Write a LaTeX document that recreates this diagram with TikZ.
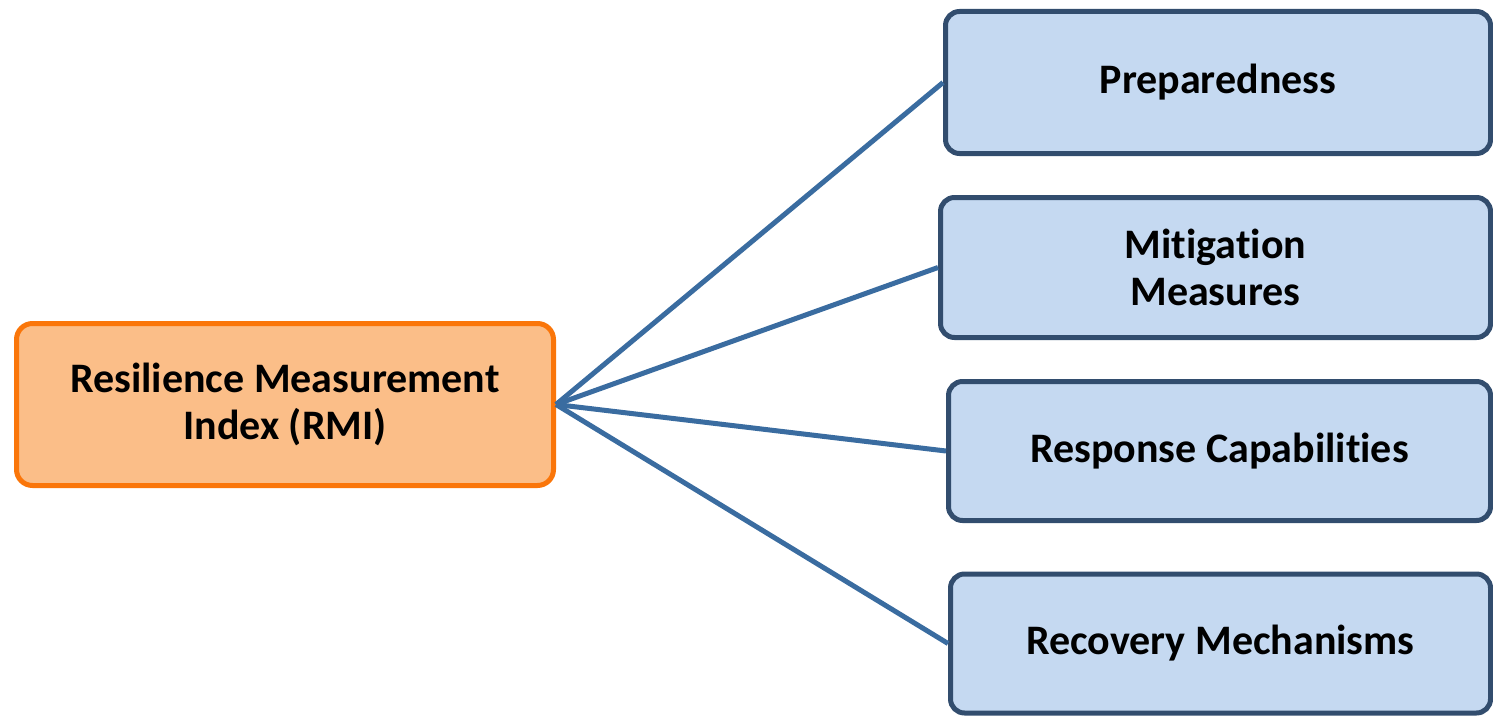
\documentclass[tikz,border=0pt]{standalone}
\usepackage{fontspec}
\setmainfont{Carlito}[Ligatures={NoCommon}]
\definecolor{linkblue}{RGB}{58,108,160}
\definecolor{boxedge}{RGB}{50,77,110}
\definecolor{boxfill}{RGB}{197,217,241}
\definecolor{rmifill}{RGB}{251,190,136}
\definecolor{rmiedge}{RGB}{250,118,10}
\begin{document}
\begin{tikzpicture}[x=1pt,y=-1pt,
  lbl/.style={font=\fontsize{42}{47}\selectfont\bfseries, align=center, text=black},
  catbox/.style={lbl, draw=boxedge, fill=boxfill, line width=5pt, rounded corners=14pt, inner sep=0pt},
  rmibox/.style={lbl, draw=rmiedge, fill=rmifill, line width=5pt, rounded corners=16pt, inner sep=0pt},
  link/.style={draw=linkblue, line width=5pt}]
\useasboundingbox (0,0) rectangle (1493,717);
\node[rmibox, minimum width=537pt, minimum height=162pt] (rmi) at (285,404.5) {Resilience Measurement\\Index (RMI)};
\node[catbox, minimum width=545pt, minimum height=142pt] (prep) at (1218,82.5) {Preparedness};
\node[catbox, minimum width=550pt, minimum height=140pt] (miti) at (1215.5,267.5) {Mitigation\\Measures};
\node[catbox, minimum width=542pt, minimum height=139pt] (resp) at (1219.5,451) {Response Capabilities};
\node[catbox, minimum width=540pt, minimum height=139pt] (reco) at (1220.5,643.5) {Recovery Mechanisms};
\draw[link] (rmi.east) -- (prep.west);
\draw[link] (rmi.east) -- (miti.west);
\draw[link] (rmi.east) -- (resp.west);
\draw[link] (rmi.east) -- (reco.west);
\end{tikzpicture}
\end{document}
